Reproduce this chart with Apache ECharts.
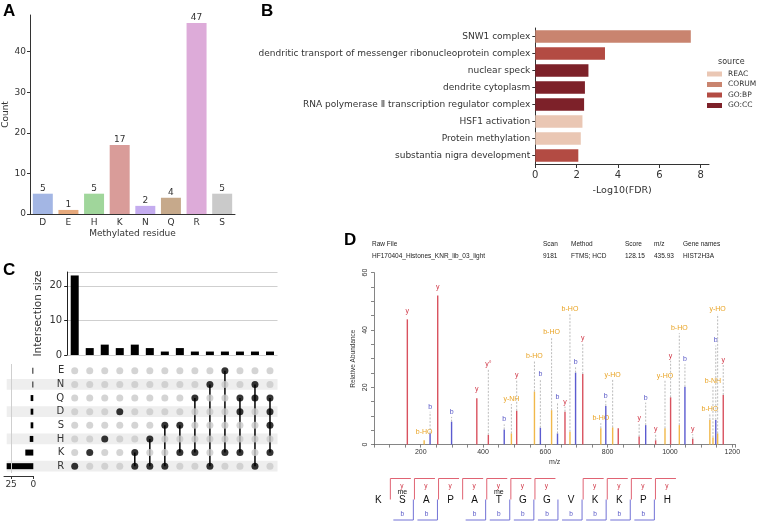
<!DOCTYPE html>
<html>
<head>
<meta charset="utf-8">
<script src="https://cdn.jsdelivr.net/npm/echarts@6/dist/echarts.min.js"></script>
<style>html,body{margin:0;padding:0;background:#fff}#main{width:758px;height:523px}</style>
</head>
<body>
<div id="main"></div>
<script>
// A: methylated residues
var residues = ['D', 'E', 'H', 'K', 'N', 'Q', 'R', 'S'];
var residueCounts = [5, 1, 5, 17, 2, 4, 47, 5];
var residueColors = ['#a3b6e4', '#e6a97c', '#a0d69b', '#d99c99', '#c4acef', '#c6a98b', '#ddabd9', '#cacaca'];

// B: enrichment
var terms = ['SNW1 complex', 'dendritic transport of messenger ribonucleoprotein complex', 'nuclear speck',
  'dendrite cytoplasm', 'RNA polymerase Ⅱ transcription regulator complex', 'HSF1 activation',
  'Protein methylation', 'substantia nigra development'];
var termFdr = [7.52, 3.37, 2.57, 2.40, 2.36, 2.28, 2.20, 2.08];
var termSource = ['CORUM', 'GO:BP', 'GO:CC', 'GO:CC', 'GO:CC', 'REAC', 'REAC', 'GO:BP'];
var sources = ['REAC', 'CORUM', 'GO:BP', 'GO:CC'];
var sourceColors = ['#eac7b4', '#c9846f', '#b34b43', '#7d2129'];

// C: upset
var setNames = ['E', 'N', 'Q', 'D', 'S', 'H', 'K', 'R'];
var setSizes = [1, 1, 3, 3, 3, 4, 9, 30];
var intersectionSets = [['R'], ['K'], ['H'], ['D'], ['K', 'R'], ['H', 'R'], ['S', 'R'], ['S', 'K'],
  ['Q', 'K'], ['N', 'R'], ['E', 'K'], ['Q', 'D', 'K'], ['N', 'Q', 'R'], ['Q', 'D', 'S', 'K']];
var intersectionSizes = [23, 2, 3, 2, 3, 2, 1, 2, 1, 1, 1, 1, 1, 1];

// D: spectrum
var peakMz =    [157, 211, 230, 254.5, 299, 380, 417, 468, 491, 508, 565, 584, 620, 639, 663, 679, 697, 720, 778, 794, 816, 834, 901, 922, 954, 984, 1002, 1030, 1048, 1073, 1128, 1138, 1147, 1153, 1171];
var peakInt =   [43.7, 1.5, 3.9, 52, 8, 16.2, 3.4, 5.3, 3.9, 11.8, 18.5, 5.9, 12, 3.9, 11.5, 4.5, 25.1, 24.6, 5.7, 13.5, 6, 5.7, 2.8, 6.8, 1.5, 5.7, 16.5, 6.8, 20.2, 2, 8.6, 2.5, 8.6, 3.9, 17.3];
var peakType =  ['y', 'o', 'b', 'y', 'b', 'y', 'y', 'b', 'o', 'y', 'o', 'b', 'o', 'b', 'y', 'o', 'b', 'y', 'o', 'b', 'o', 'y', 'y', 'b', 'y', 'o', 'y', 'o', 'b', 'y', 'o', 'o', 'b', 'o', 'y'];
var peakLabel = ['y', 'b-HO', 'b', 'y', 'b', 'y', 'y°', 'b', 'y-NH', 'y', 'b-HO', 'b', 'b-HO', 'b', 'y', 'b-HO', 'b', 'y', 'b-HO', 'b', 'y-HO', '', 'y', 'b', 'y', 'y-HO', 'y', 'b-HO', 'b', 'y', 'b-HO', 'b-NH', 'b', 'y-HO', 'y'];
var peakLabelAt = [46.7, 4.4, 13.2, 55, 11.4, 19.3, 28, 8.8, 15.9, 24.3, 31, 24.6, 39.4, 16.5, 15, 47.2, 28.7, 37.1, 9.2, 17, 24.3, 0, 9.2, 16.4, 5.4, 24, 31, 40.6, 29.8, 5.4, 12.4, 22.3, 36.3, 47.2, 29.5];

var seqResidues = ['K', 'S', 'A', 'P', 'A', 'T', 'G', 'G', 'V', 'K', 'K', 'P', 'H'];
var seqMods =     ['', 'me', '', '', '', 'me', '', '', '', '', '', '', ''];
var seqY =        [0, 1, 1, 1, 1, 1, 1, 1, 0, 1, 1, 1, 1];
var seqB =        [0, 1, 1, 0, 1, 1, 1, 1, 1, 1, 1, 1, 0];

var fA = 'DejaVu Sans';
var fD = 'Liberation Sans';
var peakColors = { y: '#d9525f', b: '#5b5bd0', o: '#f1b84a' };
var labelColors = { y: '#cf3242', b: '#5656c6', o: '#e9a323' };

var chart = echarts.init(document.getElementById('main'));

var axisBlack = { lineStyle: { color: '#333', width: 1 } };

function renderPeak(params, api) {
  var i = params.dataIndex;
  var t = peakType[i];
  var mz = api.value(0);
  var base = api.coord([mz, 0]);
  var top = api.coord([mz, api.value(1)]);
  var kids = [{ type: 'line', shape: { x1: base[0], y1: base[1], x2: top[0], y2: top[1] },
    style: { stroke: peakColors[t], lineWidth: 1.4 } }];
  if (peakLabel[i]) {
    var lp = api.coord([mz, peakLabelAt[i]]);
    if (lp[1] < top[1] - 9) {
      kids.push({ type: 'line', shape: { x1: top[0], y1: top[1], x2: lp[0], y2: lp[1] + 5 },
        style: { stroke: '#aaa', lineWidth: 0.8, lineDash: [2, 1.5] } });
    }
    kids.push({ type: 'text', style: { x: lp[0], y: lp[1], text: peakLabel[i], fill: labelColors[t],
      font: '7px ' + fD, align: 'center', verticalAlign: 'middle' } });
  }
  return { type: 'group', children: kids };
}

function renderSeq(params, api) {
  var i = params.dataIndex;
  var c = api.coord([i, 0.5]);
  var cx = c[0], cy = c[1];
  var kids = [{ type: 'text', style: { x: cx, y: cy, text: seqResidues[i], fill: '#111',
    font: '10px ' + fD, align: 'center', verticalAlign: 'middle' } }];
  if (seqMods[i]) {
    kids.push({ type: 'text', style: { x: cx, y: cy - 8, text: seqMods[i], fill: '#111',
      font: '7px ' + fD, align: 'center', verticalAlign: 'middle' } });
  }
  if (seqY[i]) {
    kids.push({ type: 'polyline', shape: { points: [[cx - 12, cy - 1], [cx - 12, cy - 22], [cx + 8.5, cy - 22]] },
      style: { stroke: '#e06373', fill: null, lineWidth: 1 } });
    kids.push({ type: 'text', style: { x: cx - 0.5, y: cy - 14, text: 'y', fill: '#cf3242',
      font: '6.5px ' + fD, align: 'center', verticalAlign: 'middle' } });
  }
  if (seqB[i]) {
    kids.push({ type: 'polyline', shape: { points: [[cx - 9, cy + 19.5], [cx + 11, cy + 19.5], [cx + 11, cy - 1]] },
      style: { stroke: '#7272d6', fill: null, lineWidth: 1 } });
    kids.push({ type: 'text', style: { x: cx, y: cy + 13.5, text: 'b', fill: '#5656c6',
      font: '6.5px ' + fD, align: 'center', verticalAlign: 'middle' } });
  }
  return { type: 'group', children: kids };
}

// upset matrix data
var dotsOn = [], dotsOff = [], links = [];
intersectionSets.forEach(function (members, col) {
  var rows = [];
  setNames.forEach(function (s, row) {
    if (members.indexOf(s) >= 0) { dotsOn.push([col, row]); rows.push(row); }
    else dotsOff.push([col, row]);
  });
  links.push([col, Math.min.apply(null, rows), Math.max.apply(null, rows)]);
});
var bandRows = [];
setNames.forEach(function (s, row) { if (row % 2 === 1) bandRows.push([0, row]); });

var sourceSeries = sources.map(function (s, k) {
  return {
    name: s, type: 'bar', xAxisIndex: 1, yAxisIndex: 1, barWidth: 12.5, barGap: '-100%',
    itemStyle: { color: sourceColors[k] },
    data: terms.map(function (t, i) { return termSource[i] === s ? termFdr[i] : '-'; })
  };
});

var hdr = '6.5px Liberation Sans';

var option = {
  animation: false,
  textStyle: { fontFamily: fA },
  grid: [
    { left: 30, top: 15, width: 205, height: 199 },
    { left: 535.3, top: 28, width: 173.7, height: 136 },
    { left: 67.2, top: 272, width: 210.3, height: 83 },
    { left: 67.2, top: 364, width: 210.3, height: 109 },
    { left: 4, top: 364, width: 29.3, height: 109 },
    { left: 374, top: 272.6, width: 361.4, height: 172 },
    { left: 366.2, top: 478, width: 313.3, height: 49 }
  ],
  legend: {
    data: sources, orient: 'vertical', left: 707, top: 70, icon: 'rect', padding: 0,
    itemWidth: 15, itemHeight: 5, itemGap: 2.5,
    textStyle: { fontSize: 7.5, color: '#333', fontFamily: fA, padding: [0, 0, 0, 1] }
  },
  graphic: [
    { type: 'text', left: 3, top: 3, style: { text: 'A', font: 'bold 17px Liberation Sans', fill: '#000' } },
    { type: 'text', left: 261, top: 3, style: { text: 'B', font: 'bold 17px Liberation Sans', fill: '#000' } },
    { type: 'text', left: 3, top: 262, style: { text: 'C', font: 'bold 17px Liberation Sans', fill: '#000' } },
    { type: 'text', left: 344, top: 232, style: { text: 'D', font: 'bold 17px Liberation Sans', fill: '#000' } },
    { type: 'text', left: 718, top: 58, style: { text: 'source', font: '8px DejaVu Sans', fill: '#333' } },
    { type: 'text', left: 372, top: 241, style: { text: 'Raw File', font: hdr, fill: '#222' } },
    { type: 'text', left: 372, top: 253, style: { text: 'HF170404_Histones_KNR_lib_03_light', font: hdr, fill: '#222' } },
    { type: 'text', left: 543, top: 241, style: { text: 'Scan', font: hdr, fill: '#222' } },
    { type: 'text', left: 543, top: 253, style: { text: '9181', font: hdr, fill: '#222' } },
    { type: 'text', left: 571, top: 241, style: { text: 'Method', font: hdr, fill: '#222' } },
    { type: 'text', left: 571, top: 253, style: { text: 'FTMS; HCD', font: hdr, fill: '#222' } },
    { type: 'text', left: 625, top: 241, style: { text: 'Score', font: hdr, fill: '#222' } },
    { type: 'text', left: 625, top: 253, style: { text: '128.15', font: hdr, fill: '#222' } },
    { type: 'text', left: 654, top: 241, style: { text: 'm/z', font: hdr, fill: '#222' } },
    { type: 'text', left: 654, top: 253, style: { text: '435.93', font: hdr, fill: '#222' } },
    { type: 'text', left: 683, top: 241, style: { text: 'Gene names', font: hdr, fill: '#222' } },
    { type: 'text', left: 683, top: 253, style: { text: 'HIST2H3A', font: hdr, fill: '#222' } }
  ],
  xAxis: [
    { gridIndex: 0, type: 'category', data: residues, axisLine: axisBlack,
      axisTick: { alignWithLabel: true, length: 3, lineStyle: { color: '#333' } },
      axisLabel: { fontSize: 9, color: '#333', margin: 4 },
      name: 'Methylated residue', nameLocation: 'middle', nameGap: 15, nameTextStyle: { fontSize: 9, color: '#333' } },
    { gridIndex: 1, type: 'value', min: 0, max: 8.4, interval: 2, axisLine: { show: true, lineStyle: { color: '#333' } },
      axisTick: { show: true, length: 4, lineStyle: { color: '#333' } }, splitLine: { show: false },
      axisLabel: { fontSize: 10, color: '#333', margin: 6, showMaxLabel: false },
      name: '-Log10(FDR)', nameLocation: 'middle', nameGap: 22, nameTextStyle: { fontSize: 9.5, color: '#333' } },
    { gridIndex: 2, type: 'category', data: intersectionSizes.map(function (v, i) { return i; }),
      axisLine: { show: false }, axisTick: { show: false }, axisLabel: { show: false } },
    { gridIndex: 3, type: 'category', data: intersectionSizes.map(function (v, i) { return i; }),
      axisLine: { show: false }, axisTick: { show: false }, axisLabel: { show: false } },
    { gridIndex: 4, type: 'value', inverse: true, min: 0, max: 33, interval: 25, offset: 3,
      axisLine: { show: true, lineStyle: { color: '#333' } },
      axisTick: { show: true, length: 3, lineStyle: { color: '#333' } }, splitLine: { show: false },
      axisLabel: { fontSize: 9, color: '#333', margin: 4, showMaxLabel: false } },
    { gridIndex: 5, type: 'value', min: 50, max: 1210, interval: 50,
      axisLine: { show: true, lineStyle: { color: '#666', width: 0.8 } },
      axisTick: { show: true, length: 3, lineStyle: { color: '#666', width: 0.8 } }, splitLine: { show: false },
      axisLabel: { fontSize: 7, color: '#333', fontFamily: fD, margin: 4,
        formatter: function (v) { return v % 200 === 0 ? v : ''; } },
      name: 'm/z', nameLocation: 'middle', nameGap: 14, nameTextStyle: { fontSize: 7, color: '#333', fontFamily: fD } },
    { gridIndex: 6, type: 'category', data: seqResidues, show: false }
  ],
  yAxis: [
    { gridIndex: 0, type: 'value', min: 0, max: 49, interval: 10, axisLine: { show: true, lineStyle: { color: '#333' } },
      axisTick: { show: true, length: 3, lineStyle: { color: '#333' } }, splitLine: { show: false },
      axisLabel: { fontSize: 9, color: '#333', margin: 4, showMaxLabel: false },
      name: 'Count', nameLocation: 'middle', nameGap: 20, nameTextStyle: { fontSize: 9, color: '#333' } },
    { gridIndex: 1, type: 'category', data: terms, inverse: true, axisLine: { show: true, lineStyle: { color: '#333' } },
      axisTick: { show: true, alignWithLabel: true, length: 3, lineStyle: { color: '#333' } },
      axisLabel: { fontSize: 9, color: '#333', margin: 5, interval: 0 } },
    { gridIndex: 2, type: 'value', min: 0, max: 24, interval: 10, axisLine: { show: true, lineStyle: { color: '#222' } },
      axisTick: { show: true, length: 3, lineStyle: { color: '#222' } },
      splitLine: { show: true, lineStyle: { color: '#cfcfcf' } },
      axisLabel: { fontSize: 10, color: '#333', margin: 5, showMaxLabel: false },
      name: 'Intersection size', nameLocation: 'middle', nameGap: 23, nameTextStyle: { fontSize: 10.5, color: '#333' } },
    { gridIndex: 3, type: 'category', data: setNames, inverse: true, z: 10,
      axisLine: { show: false }, axisTick: { show: false },
      axisLabel: { fontSize: 10, color: '#333', margin: 3, interval: 0 } },
    { gridIndex: 4, type: 'category', data: setNames, inverse: true, show: false },
    { gridIndex: 5, type: 'value', min: 0, max: 60, interval: 5,
      axisLine: { show: true, lineStyle: { color: '#666', width: 0.8 } },
      axisTick: { show: true, length: 3, lineStyle: { color: '#666', width: 0.8 } }, splitLine: { show: false },
      axisLabel: { fontSize: 7, color: '#333', fontFamily: fD, rotate: 90, margin: 5,
        formatter: function (v) { return v % 20 === 0 ? v : ''; } },
      name: 'Relative Abundance', nameLocation: 'middle', nameGap: 17, nameTextStyle: { fontSize: 6.5, color: '#333', fontFamily: fD } },
    { gridIndex: 6, type: 'value', min: 0, max: 1, show: false }
  ],
  series: [
    {
      type: 'bar', xAxisIndex: 0, yAxisIndex: 0, barWidth: '78%',
      label: { show: true, position: 'top', distance: 1, fontSize: 9, color: '#333' },
      data: residueCounts.map(function (v, i) { return { value: v, itemStyle: { color: residueColors[i] } }; })
    }
  ].concat(sourceSeries).concat([
    {
      type: 'bar', xAxisIndex: 2, yAxisIndex: 2, barWidth: 8, itemStyle: { color: '#000' },
      data: intersectionSizes
    },
    {
      type: 'custom', xAxisIndex: 3, yAxisIndex: 3, silent: true, clip: false, z: -1,
      renderItem: function (params, api) {
        var p = api.coord([0, api.value(1)]);
        var h = api.size([0, 1])[1] * 0.78;
        var cs = params.coordSys;
        return { type: 'rect', shape: { x: cs.x - 60.5, y: p[1] - h / 2, width: cs.width + 60.5, height: h },
          style: { fill: '#eeeeee' } };
      },
      data: bandRows
    },
    {
      type: 'bar', xAxisIndex: 4, yAxisIndex: 4, barWidth: 6, itemStyle: { color: '#000' },
      markLine: { silent: true, symbol: 'none', label: { show: false },
        lineStyle: { color: '#cfcfcf', type: 'solid', width: 1 }, data: [{ xAxis: 25 }] },
      data: setSizes
    },
    {
      type: 'scatter', xAxisIndex: 3, yAxisIndex: 3, symbolSize: 7, itemStyle: { color: '#c9c9c9' },
      data: dotsOff
    },
    {
      type: 'custom', xAxisIndex: 3, yAxisIndex: 3, silent: true,
      renderItem: function (params, api) {
        var a = api.coord([api.value(0), api.value(1)]);
        var b = api.coord([api.value(0), api.value(2)]);
        return { type: 'line', shape: { x1: a[0], y1: a[1], x2: b[0], y2: b[1] },
          style: { stroke: '#000', lineWidth: 1.5 } };
      },
      data: links
    },
    {
      type: 'scatter', xAxisIndex: 3, yAxisIndex: 3, symbolSize: 7, itemStyle: { color: '#000' },
      data: dotsOn
    },
    {
      type: 'custom', xAxisIndex: 5, yAxisIndex: 5, clip: false, silent: true,
      renderItem: renderPeak,
      data: peakMz.map(function (m, i) { return [m, peakInt[i]]; })
    },
    {
      type: 'custom', xAxisIndex: 6, yAxisIndex: 6, clip: false, silent: true,
      renderItem: renderSeq,
      data: seqResidues.map(function (r, i) { return [i, 0.5]; })
    }
  ])
};

chart.setOption(option);
</script>
</body>
</html>
